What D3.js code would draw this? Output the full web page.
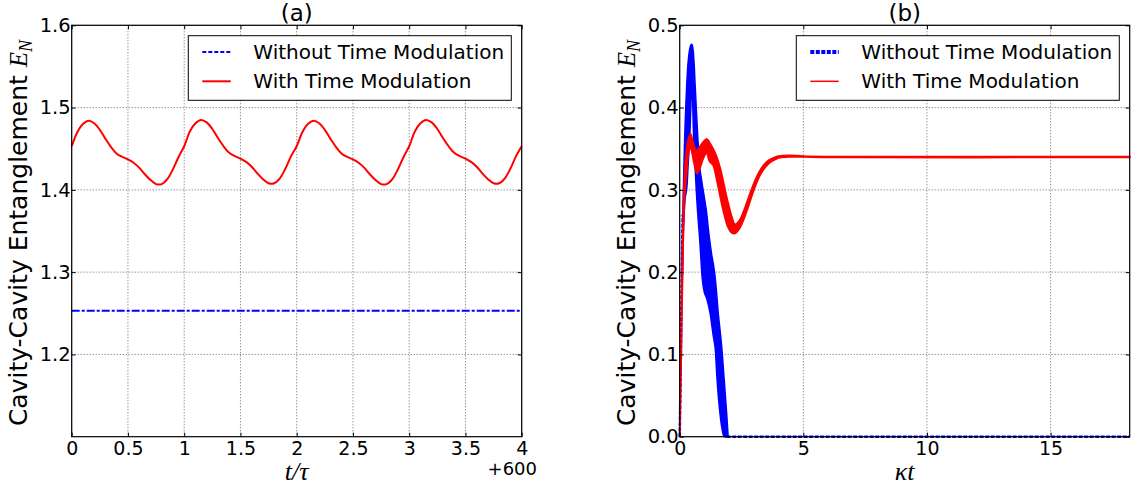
<!DOCTYPE html>
<html>
<head>
<meta charset="utf-8">
<style>
  body { margin: 0; background: #fff; }
  svg text { font-family: "DejaVu Sans", sans-serif; fill: #000; }
  .grid line { stroke: #666; stroke-width: 1; stroke-dasharray: 1,2; }
  .tick line { stroke: #000; }
  .frame { fill: none; stroke: #000; stroke-width: 1.2; }
  .math { font-family: "Liberation Serif", serif; font-style: italic; }
</style>
<title>Cavity-Cavity Entanglement</title>
</head>
<body>
<script src="https://cdn.jsdelivr.net/npm/d3@7"></script>
<script>

// ---- panel (a) : t/tau (offset +600) ----
var timeA = [0,0.05,0.1,0.15,0.2,0.25,0.3,0.35,0.4,0.45,0.5,0.55,0.6,0.65,0.7,0.75,0.8,0.85,0.9,0.95,
             1,1.05,1.1,1.15,1.2,1.25,1.3,1.35,1.4,1.45,1.5,1.55,1.6,1.65,1.7,1.75,1.8,1.85,1.9,1.95,
             2,2.05,2.1,2.15,2.2,2.25,2.3,2.35,2.4,2.45,2.5,2.55,2.6,2.65,2.7,2.75,2.8,2.85,2.9,2.95,
             3,3.05,3.1,3.15,3.2,3.25,3.3,3.35,3.4,3.45,3.5,3.55,3.6,3.65,3.7,3.75,3.8,3.85,3.9,3.95,4];
var withModA = [1.453,1.470,1.480,1.484,1.481,1.473,1.462,1.452,1.444,1.440,1.437,1.433,1.427,1.419,1.412,1.407,1.407,1.413,1.425,1.440,
                1.453,1.471,1.481,1.485,1.482,1.474,1.463,1.453,1.445,1.441,1.438,1.434,1.428,1.420,1.413,1.408,1.408,1.414,1.426,1.441,
                1.453,1.470,1.480,1.484,1.481,1.473,1.462,1.452,1.444,1.440,1.437,1.433,1.427,1.419,1.412,1.407,1.407,1.413,1.425,1.440,
                1.453,1.471,1.481,1.485,1.482,1.474,1.463,1.453,1.445,1.441,1.438,1.434,1.428,1.420,1.413,1.408,1.408,1.414,1.426,1.441,1.453];
var withoutTimeA = [0, 4];
var withoutModA = [1.253, 1.253];
var xTicksA = [0,0.5,1,1.5,2,2.5,3,3.5,4];
var yTicksA = [1.2,1.3,1.4,1.5,1.6];

// ---- panel (b) : kappa t ----
// fast oscillation drawn as an envelope band (upper / lower)
var blueT     = [0.10,0.14,0.18,0.22,0.28,0.34,0.40,0.45,0.49,0.53,0.58,0.62,0.67,0.72,0.77,0.82,0.87,0.92,1.00,1.09,1.16,1.23,1.30,1.36,1.43,1.50,1.56,1.63,1.70,1.80,1.90,1.96];
var blueUpper = [0.22,0.29,0.34,0.38,0.425,0.455,0.47,0.476,0.477,0.473,0.455,0.43,0.40,0.37,0.345,0.325,0.315,0.305,0.29,0.272,0.252,0.235,0.22,0.21,0.195,0.172,0.150,0.13,0.109,0.069,0.028,0.0];
var blueLower = [0.18,0.24,0.27,0.29,0.30,0.33,0.36,0.40,0.44,0.40,0.35,0.33,0.30,0.275,0.255,0.235,0.21,0.19,0.175,0.168,0.16,0.150,0.135,0.122,0.109,0.075,0.05,0.028,0.012,0.0,0.0,0.0];
var blueRiseT = [0, 0.04, 0.08, 0.12];
var blueRiseV = [0, 0.08, 0.18, 0.27];
var blueTailT = [1.9, 18.2];
var blueTailV = [0, 0];

var redT     = [0.00,0.05,0.10,0.15,0.20,0.28,0.36,0.44,0.52,0.60,0.70,0.80,0.95,1.09,1.20,1.35,1.50,1.65,1.80,1.95,2.10,2.24,2.40,2.60,2.80,3.00,3.20,3.40,3.60,3.80,4.00,4.40,5.00,6.00,18.2];
var redUpper = [0.00,0.10,0.20,0.28,0.32,0.35,0.363,0.368,0.36,0.352,0.348,0.352,0.358,0.362,0.358,0.35,0.34,0.325,0.305,0.285,0.268,0.258,0.262,0.275,0.292,0.308,0.321,0.330,0.336,0.339,0.341,0.342,0.341,0.3405,0.3405];
var redLower = [0.00,0.08,0.17,0.25,0.29,0.32,0.345,0.352,0.342,0.33,0.32,0.325,0.338,0.345,0.335,0.33,0.312,0.29,0.27,0.255,0.248,0.247,0.252,0.265,0.282,0.30,0.315,0.325,0.332,0.336,0.339,0.340,0.340,0.3395,0.3395];
var xTicksB = [0,5,10,15];
var yTicksB = [0,0.1,0.2,0.3,0.4,0.5];

var legendLabels = ["Without Time Modulation", "With Time Modulation"];

var W = 1132, H = 493;
var plotTop = 25.3, plotH = 411.4, plotW = 450;

var svg = d3.select('body').append('svg')
    .attr('width', W)
    .attr('height', H);

function panel(opt) {
  var g = svg.append('g').attr('transform', `translate(${opt.left},${plotTop})`);
  var x = d3.scaleLinear().domain(opt.xDomain).range([0, plotW]);
  var y = d3.scaleLinear().domain(opt.yDomain).range([plotH, 0]);

  // grid
  var grid = g.append('g').attr('class', 'grid');
  grid.selectAll('.gx').data(opt.xTicks).enter().append('line')
      .attr('x1', d => x(d)).attr('x2', d => x(d)).attr('y1', 0).attr('y2', plotH);
  grid.selectAll('.gy').data(opt.yTicks).enter().append('line')
      .attr('y1', d => y(d)).attr('y2', d => y(d)).attr('x1', 0).attr('x2', plotW);

  var marks = g.append('g');
  opt.draw(marks, x, y);

  // axes (ticks inside, all four sides)
  var ax = g.append('g').attr('transform', `translate(0,${plotH})`)
      .call(d3.axisBottom(x).tickValues(opt.xTicks).tickFormat(opt.xFmt).tickSizeInner(-4).tickSizeOuter(0).tickPadding(5));
  ax.select('.domain').remove();
  ax.selectAll('text').style('font-size', '19px');
  var ay = g.append('g')
      .call(d3.axisLeft(y).tickValues(opt.yTicks).tickFormat(opt.yFmt).tickSizeInner(-4).tickSizeOuter(0).tickPadding(1));
  ay.select('.domain').remove();
  ay.selectAll('text').style('font-size', '19.5px');
  var at = g.append('g').call(d3.axisTop(x).tickValues(opt.xTicks).tickFormat('').tickSizeInner(-4).tickSizeOuter(0));
  at.select('.domain').remove();
  var ar = g.append('g').attr('transform', `translate(${plotW},0)`)
      .call(d3.axisRight(y).tickValues(opt.yTicks).tickFormat('').tickSizeInner(-4).tickSizeOuter(0));
  ar.select('.domain').remove();

  g.append('rect').attr('class', 'frame').attr('width', plotW).attr('height', plotH);

  // title
  g.append('text').attr('x', plotW / 2).attr('y', -4).attr('text-anchor', 'middle')
      .style('font-size', '23px').text(opt.title);

  // y label
  var yl = g.append('text')
      .attr('transform', `translate(-45,${plotH / 2 + 2}) rotate(-90)`)
      .attr('text-anchor', 'middle')
      .style('font-size', '25px');
  yl.append('tspan').text('Cavity-Cavity Entanglement ');
  yl.append('tspan').attr('class', 'math').text('E');
  yl.append('tspan').attr('class', 'math').attr('dy', 5).style('font-size', '18px').text('N');

  // x label
  g.append('text').attr('class', 'math').attr('x', plotW / 2).attr('y', plotH + 43)
      .attr('text-anchor', 'middle').style('font-size', '26px').text(opt.xLabel);

  // legend
  var lg = g.append('g').attr('transform', 'translate(116.6,10.4)');
  lg.append('rect').attr('width', 323).attr('height', 64.6)
      .attr('fill', '#fff').attr('stroke', '#000').attr('stroke-width', 1);
  legendLabels.forEach(function (lab, i) {
    var ly = 16.3 + i * 29.3;
    lg.append('line').attr('x1', 14).attr('x2', 42.4).attr('y1', ly).attr('y2', ly)
      .attr('stroke', opt.legendStyle[i].color)
      .attr('stroke-width', opt.legendStyle[i].width)
      .attr('stroke-dasharray', opt.legendStyle[i].dash);
    lg.append('text').attr('x', 65).attr('y', ly + 7).style('font-size', '20px').text(lab);
  });
  return g;
}

// panel (a)
panel({
  left: 71.7, title: '(a)',
  xDomain: [0, 4], yDomain: [1.1, 1.6],
  xTicks: xTicksA, yTicks: yTicksA,
  xFmt: d3.format('~g'), yFmt: d3.format('.1f'),
  xLabel: 't/τ',
  legendStyle: [{color: '#0000ff', width: 2, dash: '4,2'}, {color: '#ff0000', width: 2, dash: null}],
  draw: function (g, x, y) {
    g.append('path')
      .datum(withoutTimeA.map((t, i) => [t, withoutModA[i]]))
      .attr('fill', 'none').attr('stroke', '#0000ff').attr('stroke-width', 2)
      .attr('stroke-dasharray', '8,2,3,2')
      .attr('d', d3.line().x(d => x(d[0])).y(d => y(d[1])));
    g.append('path')
      .datum(timeA.map((t, i) => [t, withModA[i]]))
      .attr('fill', 'none').attr('stroke', '#ff0000').attr('stroke-width', 2)
      .attr('d', d3.line().curve(d3.curveCatmullRom).x(d => x(d[0])).y(d => y(d[1])));
  }
});

// "+600" offset text
svg.append('text').attr('x', 537).attr('y', 475).attr('text-anchor', 'end')
    .style('font-size', '18px').text('+600');

// panel (b)
panel({
  left: 679.7, title: '(b)',
  xDomain: [0, 18.2], yDomain: [0, 0.5],
  xTicks: xTicksB, yTicks: yTicksB,
  xFmt: d3.format('d'), yFmt: d3.format('.1f'),
  xLabel: 'κt',
  legendStyle: [{color: '#0000ff', width: 4, dash: '4,1.5'}, {color: '#ff0000', width: 1.5, dash: null}],
  draw: function (g, x, y) {
    var band = d3.area().curve(d3.curveCatmullRom)
      .x(d => x(d[0])).y0(d => y(d[2])).y1(d => y(d[1]));
    var line = d3.line().x(d => x(d[0])).y(d => y(d[1]));
    // without modulation (blue)
    g.append('path')
      .datum(blueRiseT.map((t, i) => [t, blueRiseV[i]]))
      .attr('fill', 'none').attr('stroke', '#0000ff').attr('stroke-width', 2.5)
      .attr('stroke-dasharray', '4,1.5').attr('d', line);
    g.append('path')
      .datum(blueT.map((t, i) => [t, blueUpper[i], blueLower[i]]))
      .attr('fill', '#0000ff').attr('stroke', '#0000ff').attr('stroke-width', 1.5)
      .attr('d', band);
    g.append('path')
      .datum(blueTailT.map((t, i) => [t, blueTailV[i]]))
      .attr('fill', 'none').attr('stroke', '#0000ff').attr('stroke-width', 2.5)
      .attr('stroke-dasharray', '4,1.5').attr('d', line);
    // with modulation (red)
    g.append('path')
      .datum(redT.map((t, i) => [t, redUpper[i], redLower[i]]))
      .attr('fill', '#ff0000').attr('stroke', '#ff0000').attr('stroke-width', 1.8)
      .attr('d', band);
  }
});

</script>
</body>
</html>
